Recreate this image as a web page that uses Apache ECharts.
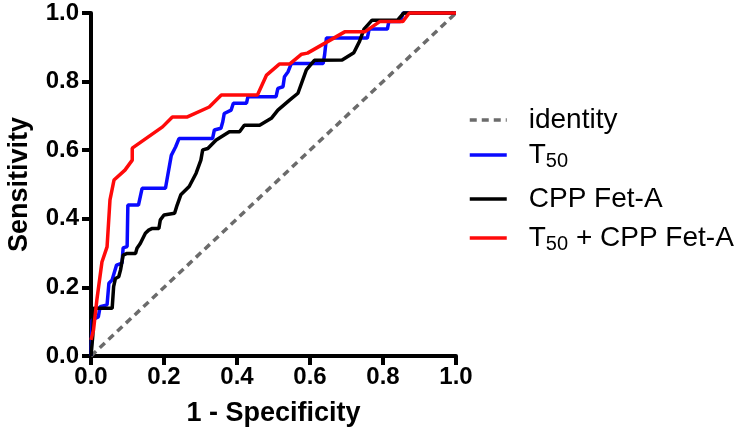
<!DOCTYPE html>
<html><head><meta charset="utf-8">
<script src="https://cdn.jsdelivr.net/npm/echarts@6/dist/echarts.min.js"></script>
<style>html,body{margin:0;padding:0;background:#fff}#c{width:737px;height:441px}</style>
</head><body><div id="c"></div>
<script>
// Data (x = 1 - Specificity, y = Sensitivity)
const identityPoints = [[0, 0], [1, 1]];
const t50Points = [[0,0],[0.003,0.105],[0.02,0.114],[0.025,0.144],[0.044,0.149],[0.049,0.212],[0.058,0.222],[0.07,0.265],[0.085,0.271],[0.088,0.315],[0.099,0.319],[0.101,0.44],[0.13,0.44],[0.14,0.489],[0.204,0.489],[0.208,0.513],[0.213,0.513],[0.22,0.585],[0.232,0.61],[0.241,0.634],[0.333,0.634],[0.338,0.659],[0.356,0.664],[0.361,0.683],[0.365,0.707],[0.384,0.717],[0.39,0.737],[0.426,0.737],[0.43,0.756],[0.507,0.756],[0.512,0.78],[0.526,0.785],[0.53,0.814],[0.54,0.829],[0.549,0.853],[0.636,0.853],[0.64,0.878],[0.645,0.927],[0.757,0.927],[0.762,0.953],[0.812,0.953],[0.816,0.975],[0.848,0.975],[0.855,1.0],[1,1]];
const cppPoints = [[0,0],[0.005,0.06],[0.007,0.139],[0.058,0.139],[0.062,0.202],[0.067,0.226],[0.076,0.231],[0.081,0.251],[0.085,0.256],[0.088,0.294],[0.099,0.299],[0.122,0.299],[0.126,0.314],[0.135,0.328],[0.149,0.358],[0.158,0.367],[0.168,0.372],[0.186,0.372],[0.19,0.397],[0.2,0.411],[0.229,0.416],[0.236,0.44],[0.246,0.47],[0.269,0.494],[0.288,0.533],[0.301,0.571],[0.306,0.601],[0.32,0.605],[0.343,0.63],[0.379,0.654],[0.407,0.654],[0.42,0.673],[0.462,0.673],[0.494,0.693],[0.512,0.717],[0.544,0.746],[0.567,0.766],[0.59,0.834],[0.612,0.862],[0.688,0.863],[0.72,0.884],[0.736,0.918],[0.748,0.953],[0.77,0.979],[0.84,0.979],[0.857,1.0],[1,1]];
const comboPoints = [[0,0.047],[0.007,0.076],[0.016,0.163],[0.03,0.274],[0.044,0.318],[0.052,0.455],[0.063,0.513],[0.093,0.542],[0.113,0.571],[0.113,0.606],[0.196,0.668],[0.223,0.697],[0.264,0.697],[0.324,0.726],[0.357,0.761],[0.456,0.761],[0.481,0.819],[0.516,0.851],[0.544,0.851],[0.577,0.88],[0.593,0.883],[0.695,0.945],[0.75,0.945],[0.791,0.975],[0.854,0.975],[0.872,1.0],[1,1]];
const xTicks = [0, 0.2, 0.4, 0.6, 0.8, 1.0];
const seriesNames = ['identity', 'T50', 'CPP Fet-A', 'T50 + CPP Fet-A'];

const chart = echarts.init(document.getElementById('c'), null, {renderer: 'canvas'});
const axisCommon = {
  type: 'value', min: 0, max: 1, interval: 0.2,
  axisLine: {show: true, lineStyle: {color: '#000', width: 4}},
  axisTick: {show: true, inside: false, length: 9, lineStyle: {color: '#000', width: 4}},
  splitLine: {show: false},
  axisLabel: {formatter: v => v.toFixed(1), color: '#000', fontFamily: 'Liberation Sans', fontWeight: 'bold', fontSize: 24},
  nameLocation: 'middle',
  nameTextStyle: {color: '#000', fontFamily: 'Liberation Sans', fontWeight: 'bold', fontSize: 27}
};
const legendText = {
  fontFamily: 'Liberation Sans', fontSize: 28, color: '#000', lineHeight: 32, padding: [0, 0, 0, 17],
  rich: {
    sub: {fontFamily: 'Liberation Sans', fontSize: 20, color: '#000', verticalAlign: 'bottom', padding: [13, 0, 0, 0]}
  }
};
const legendFmt = name => name.replace(/T50/g, 'T{sub|50}');
const legendCenters = [120, 155, 199, 238];
chart.setOption({
  animation: false,
  grid: {left: 91, right: 281, top: 13, bottom: 85, containLabel: false},
  xAxis: Object.assign({}, axisCommon, {name: '1 - Specificity', nameGap: 44,
    axisLabel: Object.assign({}, axisCommon.axisLabel, {margin: 9})}),
  yAxis: Object.assign({}, axisCommon, {name: 'Sensitivity', nameGap: 58,
    axisLabel: Object.assign({}, axisCommon.axisLabel, {margin: 12})}),
  legend: seriesNames.map((n, i) => ({
    data: [n], left: 468, top: legendCenters[i] - 16, orient: 'vertical', padding: 0,
    itemWidth: 37, itemHeight: 14, formatter: legendFmt, textStyle: legendText, selectedMode: false,
    itemStyle: {opacity: 0, borderWidth: 0},
    lineStyle: {width: 3.5}
  })),
  series: [
    {name: seriesNames[0], type: 'line', data: identityPoints, symbol: 'none', clip: false,
     lineStyle: {color: '#6b6b6b', width: 3.5, type: [7, 5]}, itemStyle: {color: '#6b6b6b'}},
    {name: seriesNames[1], type: 'line', data: t50Points, symbol: 'none', clip: false,
     lineStyle: {color: '#0a0aff', width: 3.5}, itemStyle: {color: '#0a0aff'}},
    {name: seriesNames[2], type: 'line', data: cppPoints, symbol: 'none', clip: false,
     lineStyle: {color: '#000000', width: 3.5}, itemStyle: {color: '#000000'}},
    {name: seriesNames[3], type: 'line', data: comboPoints, symbol: 'none', clip: false,
     lineStyle: {color: '#ff0a0a', width: 3.5}, itemStyle: {color: '#ff0a0a'}}
  ]
});
</script></body></html>
